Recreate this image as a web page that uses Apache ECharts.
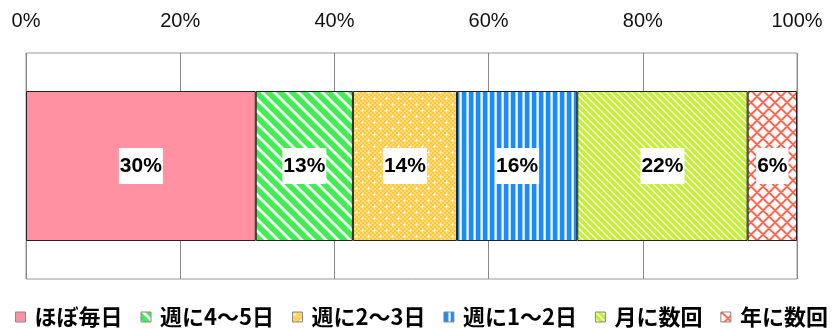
<!DOCTYPE html>
<html>
<head>
<meta charset="utf-8">
<script src="https://cdn.jsdelivr.net/npm/echarts@6/dist/echarts.min.js"></script>
<style>html,body{margin:0;padding:0;background:#fff}#c{width:834px;height:329px}</style>
</head>
<body>
<div id="c"></div>
<script>
// ---- data ----
const categories = ['頻度'];
const seriesNames = ['ほぼ毎日', '週に4～5日', '週に2～3日', '週に1～2日', '月に数回', '年に数回'];
const seriesValues = [29.8, 12.6, 13.5, 15.6, 22.1, 6.4];
const tickLabels = [0, 20, 40, 60, 80, 100];

// ---- pattern tiles ----
function tile(w, h, fn) {
  const c = document.createElement('canvas');
  c.width = w; c.height = h;
  const ctx = c.getContext('2d');
  const img = ctx.createImageData(w, h);
  for (let y = 0; y < h; y++) for (let x = 0; x < w; x++) {
    const col = fn(x, y);
    const i = (y * w + x) * 4;
    img.data[i] = col[0]; img.data[i + 1] = col[1]; img.data[i + 2] = col[2]; img.data[i + 3] = 255;
  }
  ctx.putImageData(img, 0, 0);
  return { image: c, repeat: 'repeat' };
}
function hex(h) { return [parseInt(h.slice(1, 3), 16), parseInt(h.slice(3, 5), 16), parseInt(h.slice(5, 7), 16)]; }
const W = [255, 255, 255];
function mix(a, b, t) { return [0, 1, 2].map(k => Math.round(a[k] * (1 - t) + b[k] * t)); }

const pink = '#FF91A2';
const green = hex('#40EE52');
const greenPat = tile(12, 12, (x, y) => {
  const d = ((x - y) % 12 + 12) % 12;
  if (d >= 1 && d <= 3) return W;
  if (d === 0 || d === 4) return mix(green, W, 0.5);
  return green;
});
const orange = hex('#FFC73A'), orangeL = hex('#FFDC80');
const orangePat = tile(12, 12, (x, y) => {
  const star = (cx, cy) => (x === cx && Math.abs(y - cy) <= 1) || (y === cy && Math.abs(x - cx) <= 1);
  if (star(2, 2) || star(8, 8)) return (x === 2 && y === 2) || (x === 8 && y === 8) ? W : mix(orangeL, W, 0.6);
  return (((x >> 1) + (y >> 1)) % 2) ? orangeL : orange;
});
const blue = hex('#1A8CFF');
const bluePat = tile(7, 1, (x) => {
  if (x < 4) return blue;
  if (x === 4) return mix(blue, W, 0.55);
  if (x === 5) return W;
  return mix(blue, W, 0.75);
});
const lime = hex('#C4EE38');
const limePat = tile(7, 7, (x, y) => {
  const d = ((x - y) % 7 + 7) % 7;
  if (d === 0) return mix(lime, W, 0.85);
  if (d === 1) return mix(lime, W, 0.5);
  if (d === 6) return mix(lime, W, 0.4);
  return lime;
});
const red = hex('#FF6650');
const redPat = tile(12, 12, (x, y) => {
  const d1 = (x + y) % 12, d2 = ((x - y) % 12 + 12) % 12;
  const on = (d) => d === 0 || d === 1;
  const edge = (d) => d === 2 || d === 11;
  if (on(d1) || on(d2)) return red;
  if (edge(d1) || edge(d2)) return mix(red, W, 0.6);
  return W;
});
const fills = [pink, greenPat, orangePat, bluePat, limePat, redPat];

const chart = echarts.init(document.getElementById('c'), null, { renderer: 'canvas' });
chart.setOption({
  animation: false,
  backgroundColor: '#fff',
  grid: { left: 26, right: 37, top: 53, bottom: 50, show: true, borderColor: '#999', borderWidth: 1 },
  xAxis: {
    type: 'value', position: 'top', min: tickLabels[0], max: tickLabels[tickLabels.length - 1], interval: 20,
    axisLine: { show: false }, axisTick: { show: false },
    axisLabel: { formatter: '{value}%', color: '#111', fontSize: 20, fontFamily: '"Liberation Sans", sans-serif', margin: 22 },
    splitLine: { show: true, lineStyle: { color: '#888', width: 1 } }
  },
  yAxis: { type: 'category', data: categories, show: false },
  legend: {
    data: seriesNames, left: 10, top: 301, width: 824, itemWidth: 10, itemHeight: 10, itemGap: 18,
    icon: 'rect',
    itemStyle: { borderColor: '#888', borderWidth: 1 },
    textStyle: { fontSize: 22, fontWeight: 'bold', color: '#000', fontFamily: '"Noto Sans CJK JP", sans-serif', padding: [0, 0, 0, 4] }
  },
  series: seriesNames.map((name, i) => ({
    name, type: 'bar', stack: 'total', barWidth: 150,
    data: [seriesValues[i]],
    itemStyle: { color: fills[i], borderColor: '#222', borderWidth: 1 },
    label: {
      show: true, position: 'inside', formatter: p => Math.round(p.value) + '%',
      color: '#000', fontSize: 21, fontWeight: 'bold', fontFamily: '"Liberation Sans", sans-serif',
      backgroundColor: '#fff', padding: [8, 1, 7, 1]
    }
  }))
});
</script>
</body>
</html>
